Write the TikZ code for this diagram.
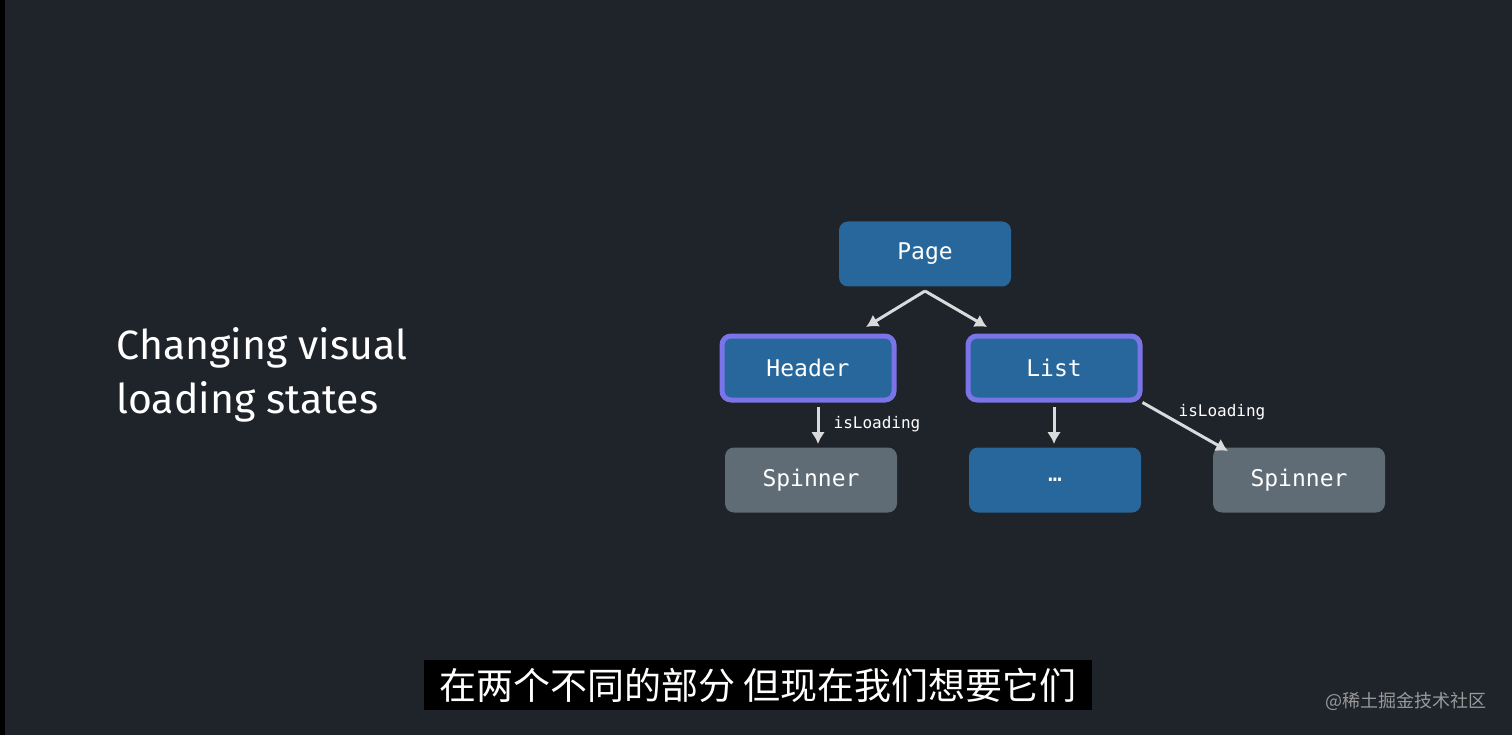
\documentclass[tikz,border=0pt]{standalone}
\usepackage{fontspec}
\usetikzlibrary{arrows.meta}
\setmainfont{Fira Sans}
\setmonofont{DejaVu Sans Mono}
\newfontfamily\cjk{Noto Sans CJK SC}
\definecolor{bg}{HTML}{1F232A}
\definecolor{blu}{HTML}{28679B}
\definecolor{purp}{HTML}{7A74E8}
\definecolor{gry}{HTML}{5F6B75}
\definecolor{arr}{HTML}{D8DADC}
\begin{document}
\begin{tikzpicture}[x=1pt,y=-1pt,
  box/.style={rounded corners=9pt,minimum width=172pt,minimum height=65pt,text=white,font=\ttfamily\fontsize{23}{27}\selectfont},
  bluebox/.style={box,fill=blu},
  selbox/.style={box,fill=blu,draw=purp,line width=5pt,minimum width=172pt,minimum height=64pt},
  graybox/.style={box,fill=gry},
  conn/.style={draw=arr,line width=3pt,-{Latex[length=12pt,width=14pt]}},
  lbl/.style={text=white,font=\ttfamily\fontsize{16}{18}\selectfont}]
\useasboundingbox (0,0) rectangle (1512,735);
\fill[black] (0,0) rectangle (1512,735);
\fill[bg] (5,0) rectangle (1512,735);
\node[anchor=west,text=white,align=left,font=\fontsize{41}{54}\selectfont] (title) at (113,375) {Changing visual\\loading states};
\node[bluebox] (page) at (925,254) {Page};
\node[selbox] (header) at (808,368) {Header};
\node[selbox] (list) at (1054,368) {List};
\node[graybox] (sp1) at (811,480) {Spinner};
\node[bluebox] (dots) at (1055,480) {\dots};
\node[graybox] (sp2) at (1299,480) {Spinner};
\coordinate (pb) at (925,291);
\draw[conn] (pb) -- (866,327);
\draw[conn] (pb) -- (987,327);
\draw[conn] (818,407) -- (818,444);
\draw[conn] (1054,407) -- (1054,444);
\draw[conn] (list.south east) -- (1228,451);
\node[lbl] (l1) at (877,424) {isLoading};
\node[lbl] (l2) at (1222,412) {isLoading};
\node[fill=black,inner sep=0pt,minimum width=668pt,minimum height=50pt,text=white,font=\cjk\fontsize{37}{40}\selectfont] (sub) at (758,685) {在两个不同的部分 但现在我们想要它们};
\node[anchor=east,text=gray!80,font=\cjk\fontsize{18}{20}\selectfont] (wm) at (1490,701) {@稀土掘金技术社区};
\end{tikzpicture}
\end{document}
